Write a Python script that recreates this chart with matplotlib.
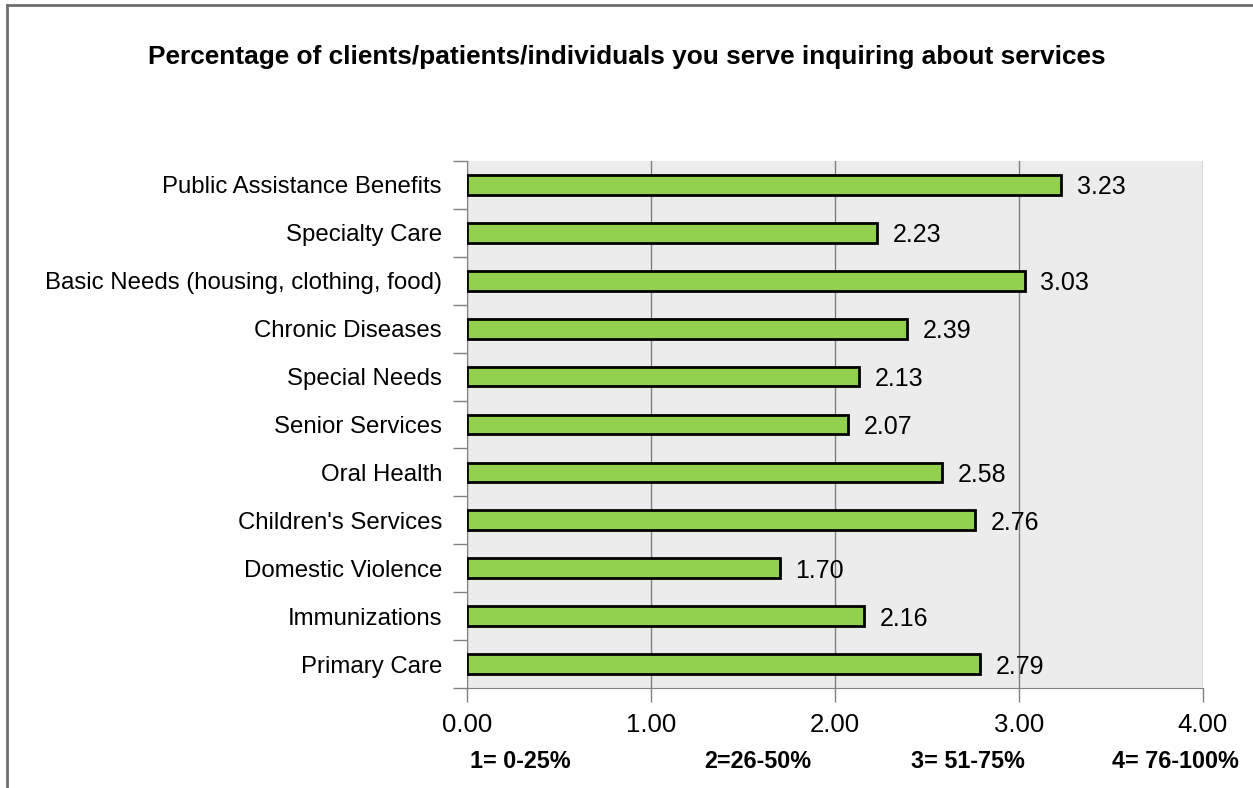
import matplotlib.pyplot as plt
from matplotlib.lines import Line2D
from matplotlib import transforms
import numpy as np

# Data (top to bottom as shown)
categories = ["Public Assistance Benefits", "Specialty Care",
              "Basic Needs (housing, clothing, food)", "Chronic Diseases",
              "Special Needs", "Senior Services", "Oral Health",
              "Children's Services", "Domestic Violence", "Immunizations",
              "Primary Care"]
values = [3.23, 2.23, 3.03, 2.39, 2.13, 2.07, 2.58, 2.76, 1.70, 2.16, 2.79]
x_ticks = [0, 1, 2, 3, 4]
scale_labels = ["1= 0-25%", "2=26-50%", "3= 51-75%", "4= 76-100%"]
scale_label_x = [0.29, 1.58, 2.72, 3.85]

title = "Percentage of clients/patients/individuals you serve inquiring about services"

plt.rcParams['font.family'] = ['Liberation Sans', 'DejaVu Sans']

fig = plt.figure(figsize=(12.53, 7.88), dpi=100)
ax = fig.add_axes([467 / 1253, 1 - 688 / 788, (1203 - 467) / 1253, (688 - 161) / 788])

# frame around the chart (only top and left visible in the reference)
fig.add_artist(Line2D([7 / 1253, 7 / 1253], [0, 1 - 5 / 788], color='#6e6e6e', lw=2,
                      transform=fig.transFigure))
fig.add_artist(Line2D([7 / 1253, 1], [1 - 5 / 788, 1 - 5 / 788], color='#6e6e6e', lw=2,
                      transform=fig.transFigure))

n = len(categories)
y = np.arange(n)[::-1]
ax.set_facecolor('#ececec')
ax.barh(y, values, height=0.41, color='#92d050', edgecolor='black', linewidth=2, zorder=3)

for yi, v in zip(y, values):
    ax.text(v + 0.085, yi, f"{v:.2f}", va='center_baseline', ha='left', fontsize=18, zorder=4)

ax.set_xlim(0, 4)
ax.set_ylim(-0.5, n - 0.5)
ax.set_xticks(x_ticks)
ax.set_xticklabels([f"{t:.2f}" for t in x_ticks], fontsize=18.5)
ax.set_yticks(y)
ax.set_yticklabels(categories, fontsize=17.3)
ax.set_yticks(np.arange(-0.5, n, 1.0), minor=True)
ax.tick_params(axis='y', which='major', length=0, pad=18)
ax.tick_params(axis='y', which='minor', length=10, color='#808080', width=1)
ax.tick_params(axis='x', which='major', length=10, color='#808080', width=1, pad=8)

ax.grid(axis='x', color='#808080', lw=1, zorder=1)
for s in ['top', 'right']:
    ax.spines[s].set_visible(False)
ax.spines['left'].set_color('#808080')
ax.spines['bottom'].set_color('#808080')

trans = transforms.blended_transform_factory(ax.transData, fig.transFigure)
for xl, lab in zip(scale_label_x, scale_labels):
    ax.text(xl, 1 - 762 / 788, lab, transform=trans, ha='center', va='center',
            fontsize=16.8, fontweight='bold')

fig.text(627 / 1253, 1 - 57 / 788, title, ha='center', va='center',
         fontsize=18.9, fontweight='bold')

fig.savefig('out.png', dpi=100)
